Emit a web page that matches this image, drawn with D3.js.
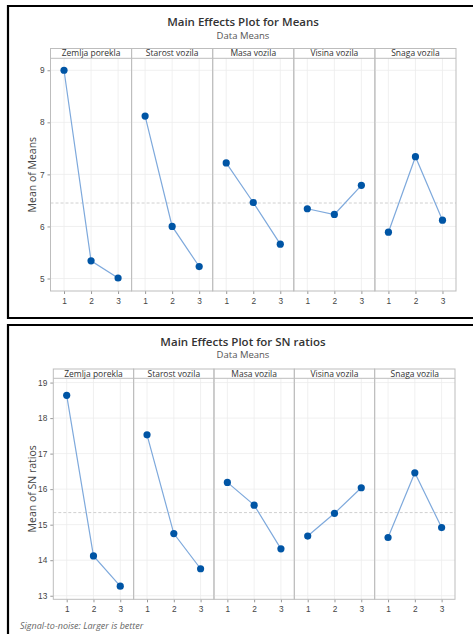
<!DOCTYPE html>
<html lang="en">
<head>
<meta charset="UTF-8">
<title>Main Effects Plots</title>
<script src="https://d3js.org/d3.v7.min.js"></script>
<style>
    body { margin: 0; background: #fff; }
    svg { display: block; font-family: "Open Sans", "Noto Sans", sans-serif; }
    .grid line { stroke: #ececec; stroke-width: 0.8; }
    .tick text { fill: #444; font-size: 8.3px; }
    .tick line { stroke: #999; }
    .domain { stroke: #aaa; }
</style>
</head>
<body>
<div id="chart"></div>
<script>
    // factors and levels
    const factors = ["Zemlja porekla", "Starost vozila", "Masa vozila", "Visina vozila", "Snaga vozila"];
    const levels = [1, 2, 3];

    // means of means, one row per factor (levels 1..3)
    const meanValues = [
        [9.00, 5.34, 5.01],
        [8.12, 6.00, 5.23],
        [7.22, 6.46, 5.66],
        [6.34, 6.23, 6.79],
        [5.89, 7.34, 6.12]
    ];
    const meanTicks = [5, 6, 7, 8, 9];
    const meanOverall = 6.45;

    // mean of SN ratios
    const snValues = [
        [18.64, 14.12, 13.27],
        [17.53, 14.75, 13.76],
        [16.19, 15.55, 14.32],
        [14.68, 15.32, 16.04],
        [14.64, 16.46, 14.92]
    ];
    const snTicks = [13, 14, 15, 16, 17, 18, 19];
    const snOverall = 15.34;

    const W = 473, H = 634;
    const svg = d3.select("#chart").append("svg")
        .attr("width", W)
        .attr("height", H);

    // frames
    svg.append("path")
        .attr("d", "M473,6 H8 V318 H473")
        .attr("fill", "none").attr("stroke", "#000").attr("stroke-width", 2.2);
    svg.append("path")
        .attr("d", "M473,325 H8 V634")
        .attr("fill", "none").attr("stroke", "#000").attr("stroke-width", 2.2);

    function drawPlot(o) {
        const g = svg.append("g");
        const panelW = (o.right - o.left) / factors.length;

        g.append("text")
            .attr("x", 243).attr("y", o.titleY)
            .attr("text-anchor", "middle")
            .attr("font-size", 11.5).attr("font-weight", 600).attr("fill", "#333")
            .text(o.title);
        g.append("text")
            .attr("x", 243).attr("y", o.titleY + 12.5)
            .attr("text-anchor", "middle")
            .attr("font-size", 9.5).attr("fill", "#555")
            .text("Data Means");

        const y = d3.scaleLinear().domain(o.domain).range([o.bottom, o.plotTop]);

        // y axis label
        g.append("text")
            .attr("transform", "translate(" + o.ylabX + "," + ((o.plotTop + o.bottom) / 2) + ") rotate(-90)")
            .attr("text-anchor", "middle")
            .attr("font-size", 10.5).attr("fill", "#444")
            .text(o.ylab);

        // y axis
        g.append("g")
            .attr("transform", "translate(" + o.left + ",0)")
            .call(d3.axisLeft(y).tickValues(o.ticks).tickFormat(d3.format("d")).tickSize(3).tickPadding(3))
            .call(a => a.select(".domain").remove());

        factors.forEach((f, i) => {
            const x0 = o.left + i * panelW;
            const x = d3.scaleLinear().domain([0.5, 3.5]).range([x0, x0 + panelW]);
            const p = g.append("g");

            // grid
            const grid = p.append("g").attr("class", "grid");
            grid.selectAll(".hy").data(o.ticks).enter().append("line")
                .attr("x1", x0).attr("x2", x0 + panelW)
                .attr("y1", d => y(d)).attr("y2", d => y(d));
            grid.selectAll(".vx").data(levels).enter().append("line")
                .attr("x1", d => x(d)).attr("x2", d => x(d))
                .attr("y1", o.plotTop).attr("y2", o.bottom);

            // overall mean reference
            p.append("line")
                .attr("x1", x0).attr("x2", x0 + panelW)
                .attr("y1", y(o.overall)).attr("y2", y(o.overall))
                .attr("stroke", "#d0d0d0").attr("stroke-width", 1)
                .attr("stroke-dasharray", "3,2");

            // x axis
            p.append("g")
                .attr("transform", "translate(0," + o.bottom + ")")
                .call(d3.axisBottom(x).tickValues(levels).tickFormat(d3.format("d")).tickSize(3).tickPadding(4))
                .call(a => a.select(".domain").remove());

            // panel frame
            p.append("rect")
                .attr("x", x0).attr("y", o.top)
                .attr("width", panelW).attr("height", o.bottom - o.top)
                .attr("fill", "none").attr("stroke", "#bdbdbd").attr("stroke-width", 1);
            p.append("line")
                .attr("x1", x0).attr("x2", x0 + panelW)
                .attr("y1", o.plotTop).attr("y2", o.plotTop)
                .attr("stroke", "#bdbdbd");
            p.append("text")
                .attr("x", x0 + panelW / 2).attr("y", o.top + 7.6)
                .attr("text-anchor", "middle")
                .attr("font-size", 8.5).attr("fill", "#333")
                .text(f);

            const pts = levels.map((l, j) => ({ l: l, v: o.values[i][j] }));
            p.append("path")
                .datum(pts)
                .attr("fill", "none").attr("stroke", "#7ea9dc").attr("stroke-width", 1.2)
                .attr("d", d3.line().x(d => x(d.l)).y(d => y(d.v)));
            p.selectAll("circle").data(pts).enter().append("circle")
                .attr("cx", d => x(d.l)).attr("cy", d => y(d.v))
                .attr("r", 3.6).attr("fill", "#0055a5");
        });
    }

    drawPlot({
        title: "Main Effects Plot for Means", titleY: 26,
        top: 48.5, plotTop: 58.3, bottom: 291, left: 50.5, right: 456,
        domain: [4.76, 9.23], ticks: meanTicks, overall: meanOverall,
        values: meanValues, ylab: "Mean of Means", ylabX: 35.5
    });

    drawPlot({
        title: "Main Effects Plot for SN ratios", titleY: 345.5,
        top: 369, plotTop: 378.3, bottom: 599.3, left: 53.3, right: 455,
        domain: [12.9, 19.12], ticks: snTicks, overall: snOverall,
        values: snValues, ylab: "Mean of SN ratios", ylabX: 35.5
    });

    svg.append("text")
        .attr("x", 20).attr("y", 629)
        .attr("font-size", 9).attr("font-style", "italic").attr("fill", "#666")
        .text("Signal-to-noise: Larger is better");
</script>
</body>
</html>
